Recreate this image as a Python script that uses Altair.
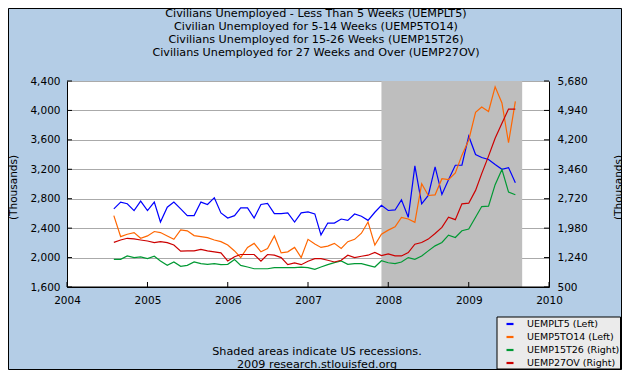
import altair as alt
import pandas as pd

FONT = "DejaVu Sans"

# ---------------- data ----------------
start_month = "2004-08-01"
n_months = 61
months = pd.date_range(start_month, periods=n_months, freq="MS").strftime("%Y-%m-%d").tolist()

uemplt5 = [2662, 2754, 2731, 2639, 2768, 2639, 2754, 2483, 2685, 2754, 2662, 2570, 2570, 2754, 2722, 2814, 2607, 2538, 2570,
           2676, 2676, 2538, 2722, 2736, 2598, 2598, 2607, 2483, 2607, 2621, 2593, 2308, 2469, 2469, 2524, 2506, 2593, 2561,
           2506, 2616, 2710, 2640,
           2647, 2784, 2547, 3246, 2730, 2844, 3232, 2857, 3059, 3255, 3255, 3650, 3401, 3360, 3333, 3264, 3200, 3223, 3017]
uemp5to14 = [2570, 2285, 2317, 2340, 2262, 2294, 2354, 2340, 2294, 2248, 2377, 2363, 2299, 2285, 2271, 2239, 2216, 2170, 2090,
             2000, 2138, 2193, 2078, 2124, 2294, 2064, 2078, 2138, 2000, 2248, 2184, 2138, 2156, 2193, 2124, 2216, 2248, 2331,
             2483, 2170, 2318, 2373,
             2419, 2547, 2524, 2478, 3004, 2844, 2853, 3072, 3059, 3150, 3392, 3598, 3973, 4046, 3986, 4320, 4101, 3561, 4124]
uemp15t26 = [1197, 1197, 1282, 1240, 1257, 1214, 1274, 1155, 1044, 1129, 1019, 1044, 1129, 1087, 1070, 1087, 1061, 1070, 1190,
             1044, 1002, 959, 959, 959, 985, 985, 985, 985, 1002, 985, 942, 1002, 1061, 1112, 1155, 1070, 1087, 1087,
             1044, 1002, 1160, 1110,
             1087, 1129, 1239, 1197, 1281, 1408, 1535, 1619, 1805, 1746, 1915, 1957, 2253, 2523, 2532, 3073, 3453, 2887, 2819]
uemp27ov = [1623, 1682, 1725, 1708, 1682, 1657, 1614, 1640, 1614, 1555, 1402, 1410, 1410, 1444, 1410, 1385, 1359, 1155, 1260,
            1317, 1317, 1317, 1147, 1317, 1300, 1240, 1061, 1104, 1061, 1147, 1214, 1214, 1172, 1129, 1172, 1300, 1240, 1274,
            1300, 1368, 1290, 1330,
            1281, 1281, 1366, 1577, 1619, 1704, 1847, 1999, 2253, 2194, 2591, 2608, 2929, 3351, 3791, 4239, 4619, 4974, 4974]

series_names = ["UEMPLT5 (Left)", "UEMP5TO14 (Left)", "UEMP15T26 (Right)", "UEMP27OV (Right)"]
series_colors = ["#0000ff", "#ff6600", "#009933", "#cc0000"]

title_lines = [
    "Civilians Unemployed - Less Than 5 Weeks (UEMPLT5)",
    "Civilian Unemployed for 5-14 Weeks (UEMP5TO14)",
    "Civilians Unemployed for 15-26 Weeks (UEMP15T26)",
    "Civilians Unemployed for 27 Weeks and Over (UEMP27OV)",
]
footer_lines = ["Shaded areas indicate US recessions.", "2009 research.stlouisfed.org"]

left_ticks = [1600, 2000, 2400, 2800, 3200, 3600, 4000, 4400]
right_ticks = [500, 1240, 1980, 2720, 3460, 4200, 4940, 5680]
year_ticks = ["2004-01-01", "2005-01-01", "2006-01-01", "2007-01-01", "2008-01-01", "2009-01-01", "2010-01-01"]
rec_start = "2007-12-01"
rec_end = "2009-09-01"

# ---------------- layout ----------------
W, H = 482, 206

left_df = pd.DataFrame({
    "date": months * 2,
    "value": uemplt5 + uemp5to14,
    "series": [series_names[0]] * n_months + [series_names[1]] * n_months,
})
right_df = pd.DataFrame({
    "date": months * 2,
    "value": uemp15t26 + uemp27ov,
    "series": [series_names[2]] * n_months + [series_names[3]] * n_months,
})
rec_df = pd.DataFrame({"start": [rec_start], "end": [rec_end]})
yt_df = pd.DataFrame({"d": year_ticks})
lt_df = pd.DataFrame({"v": left_ticks})
rt_df = pd.DataFrame({"v": right_ticks})
one = pd.DataFrame({"k": [0]})

x_scale = alt.Scale(type="utc",
                    domain=[alt.DateTime(year=2004, month=1, date=1, utc=True),
                            alt.DateTime(year=2010, month=1, date=1, utc=True)])
left_scale = alt.Scale(domain=[1600, 4400], nice=False, zero=False)
right_scale = alt.Scale(domain=[500, 5680], nice=False, zero=False)

color_enc = alt.Color(
    "series:N",
    scale=alt.Scale(domain=series_names, range=series_colors),
    legend=alt.Legend(
        title=None, orient="none", legendX=438, legendY=238, direction="vertical",
        symbolType="stroke", symbolSize=49, symbolStrokeWidth=2.2,
        labelFont=FONT, labelFontSize=9.5, labelColor="black", labelOffset=12,
        rowPadding=3, padding=0,
    ),
)

x_axis = alt.Axis(
    tickCount=alt.TimeIntervalStep(interval="year", step=1),
    format="%Y", title=None, ticks=False, labelPadding=8, grid=False,
    domainColor="black", domainWidth=1, labelFont=FONT, labelFontSize=10.5, labelColor="black",
    labelFlush=False, labelOverlap=False,
)
left_axis = alt.Axis(
    orient="left", values=left_ticks, format=",.0f", title="(Thousands)",
    ticks=False, labelPadding=7, grid=True, gridColor="#aaaaaa", gridWidth=1,
    domainColor="black", domainWidth=1, labelFont=FONT, labelFontSize=10.5, labelColor="black",
    titleFont=FONT, titleFontSize=10.5, titleFontWeight="normal", titleColor="black",
    titleX=-54, titleY=106, titleAngle=270, titleAlign="center", titleBaseline="middle",
    labelOverlap=False,
)
right_axis = alt.Axis(
    orient="right", values=right_ticks, format=",.0f", title="(Thousands)",
    ticks=False, labelPadding=8, grid=False,
    domainColor="black", domainWidth=1, labelFont=FONT, labelFontSize=10.5, labelColor="black",
    titleFont=FONT, titleFontSize=10.5, titleFontWeight="normal", titleColor="black",
    titleX=69, titleY=106, titleAngle=270, titleAlign="center", titleBaseline="middle",
    labelOverlap=False,
)

# ---------------- marks ----------------
shade = alt.Chart(rec_df).mark_rect(color="#bebebe").encode(
    x=alt.X("start:T", scale=x_scale, axis=x_axis), x2="end:T",
    y=alt.value(0), y2=alt.value(H),
)
lines_left = alt.Chart(left_df).mark_line(strokeWidth=1.2).encode(
    x=alt.X("date:T", scale=x_scale, axis=x_axis),
    y=alt.Y("value:Q", scale=left_scale, axis=left_axis),
    color=color_enc,
)
lines_right = alt.Chart(right_df).mark_line(strokeWidth=1.2).encode(
    x=alt.X("date:T", scale=x_scale, axis=x_axis),
    y=alt.Y("value:Q", scale=right_scale, axis=right_axis),
    color=color_enc,
)
xticks = alt.Chart(yt_df).mark_rule(color="black", strokeWidth=1).encode(
    x=alt.X("d:T", scale=x_scale, axis=x_axis), y=alt.value(H - 5), y2=alt.value(H),
)
lticks = alt.Chart(lt_df).mark_rule(color="black", strokeWidth=1).encode(
    y=alt.Y("v:Q", scale=left_scale, axis=None), x=alt.value(0), x2=alt.value(5),
)
rticks = alt.Chart(rt_df).mark_rule(color="black", strokeWidth=1).encode(
    y=alt.Y("v:Q", scale=right_scale, axis=None), x=alt.value(W - 5), x2=alt.value(W),
)
bottom_line = alt.Chart(one).mark_rule(color="black", strokeWidth=1).encode(
    x=alt.value(0), x2=alt.value(W), y=alt.value(H),
)

texts = []
for line, ty in zip(title_lines, [-67.5, -54.2, -40.9, -27.6]):
    texts.append(alt.Chart(one).mark_text(text=line, font=FONT, fontSize=11.2, color="black",
                                          align="center", baseline="middle")
                 .encode(x=alt.value(249), y=alt.value(ty)))
for line, ty in zip(footer_lines, [270.7, 284.0]):
    texts.append(alt.Chart(one).mark_text(text=line, font=FONT, fontSize=11.2, color="black",
                                          align="center", baseline="middle")
                 .encode(x=alt.value(250), y=alt.value(ty)))

legend_box = alt.Chart(one).mark_rect(fill="#ebebeb", stroke="black", strokeWidth=1).encode(
    x=alt.value(430), x2=alt.value(553.5), y=alt.value(236), y2=alt.value(288),
)
border = alt.Chart(one).mark_rect(fillOpacity=0, stroke="black", strokeWidth=1).encode(
    x=alt.value(-58.5), x2=alt.value(554.5), y=alt.value(-72.5), y2=alt.value(288.5),
)

chart = (
    alt.layer(shade, lines_left, lines_right, xticks, lticks, rticks, bottom_line,
              legend_box, border, *texts)
    .resolve_scale(y="independent")
    .properties(
        width=W, height=H,
        autosize=alt.AutoSizeParams(type="none"),
        padding={"left": 59, "top": 73, "right": 73, "bottom": 83},
        background="#b4cde6",
    )
    .configure_view(fill="white", stroke="transparent")
)

chart.save("out.html", embed_options={"renderer": "svg", "actions": False})
